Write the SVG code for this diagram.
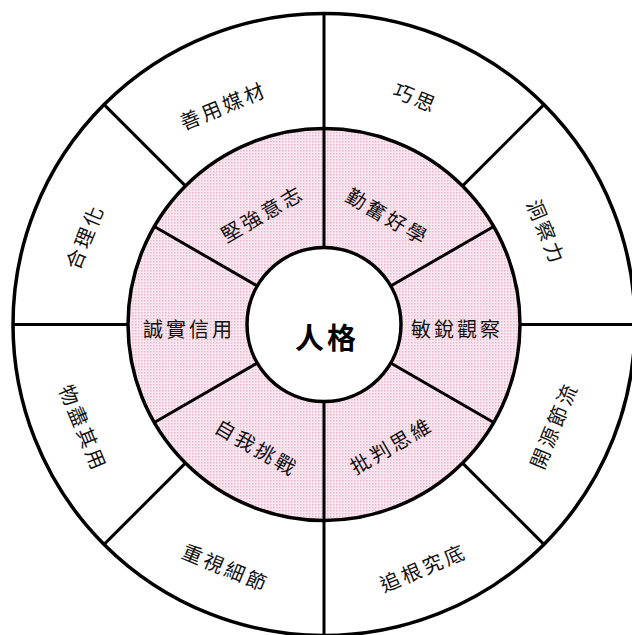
<svg xmlns="http://www.w3.org/2000/svg" width="632" height="635" viewBox="0 0 632 635">
<style>
  .ring { stroke: #000; stroke-width: 3.5; }
  .div { stroke: #000; stroke-width: 3; fill: none; }
  .lbl { font-family: "Noto Sans CJK TC", "Noto Sans CJK SC", sans-serif; font-size: 20px; letter-spacing: 3px; fill: #111; text-anchor: middle; dominant-baseline: central; }
  .core { font-family: "Noto Sans CJK TC", "Noto Sans CJK SC", sans-serif; font-size: 29px; font-weight: bold; letter-spacing: 3px; fill: #000; text-anchor: middle; dominant-baseline: central; }
</style>
<defs>
  <pattern id="dots" width="3" height="3" patternUnits="userSpaceOnUse">
    <rect width="3" height="3" fill="#fbe7f0"/>
    <rect width="1.5" height="1.5" fill="#e8b7cd"/>
  </pattern>
</defs>
<rect width="632" height="635" fill="#fff"/>
<g id="outer-ring"><circle class="ring" cx="324" cy="324.5" r="311" fill="#fff"/></g>
<g id="middle-ring"><circle class="ring" cx="324" cy="324.5" r="196" fill="url(#dots)"/></g>
<g id="connectors">
  <line class="div" x1="324" y1="13.5" x2="324" y2="247.5"/>
  <line class="div" x1="324" y1="401.5" x2="324" y2="635.5"/>
  <line class="div" x1="520" y1="324.5" x2="635" y2="324.5"/>
  <line class="div" x1="128" y1="324.5" x2="13" y2="324.5"/>
  <line class="div" x1="462.6" y1="185.9" x2="543.9" y2="104.6"/>
  <line class="div" x1="185.4" y1="185.9" x2="104.1" y2="104.6"/>
  <line class="div" x1="185.4" y1="463.1" x2="104.1" y2="544.4"/>
  <line class="div" x1="462.6" y1="463.1" x2="543.9" y2="544.4"/>
  <line class="div" x1="390.7" y1="286" x2="493.7" y2="226.5"/>
  <line class="div" x1="257.3" y1="286" x2="154.3" y2="226.5"/>
  <line class="div" x1="257.3" y1="363" x2="154.3" y2="422.5"/>
  <line class="div" x1="390.7" y1="363" x2="493.7" y2="422.5"/>
</g>
<g id="center">
  <circle class="ring" cx="324" cy="324.5" r="77" fill="#fff"/>
  <text class="core" x="327" y="336">人格</text>
</g>
<g id="n-qiaosi"><text class="lbl" transform="translate(416,97) rotate(22.5)">巧思</text></g>
<g id="n-dongchali"><text class="lbl" transform="translate(547,232) rotate(67.5)">洞察力</text></g>
<g id="n-kaiyuan"><text class="lbl" transform="translate(553,425) rotate(-67.5)">開源節流</text></g>
<g id="n-zhuigen"><text class="lbl" transform="translate(423,567) rotate(-22.5)">追根究底</text></g>
<g id="n-zhongshi"><text class="lbl" transform="translate(226,567) rotate(22.5)">重視細節</text></g>
<g id="n-wujin"><text class="lbl" transform="translate(84,428) rotate(67.5)">物盡其用</text></g>
<g id="n-heli"><text class="lbl" transform="translate(84,236) rotate(-67.5)">合理化</text></g>
<g id="n-shanyong"><text class="lbl" transform="translate(223,105) rotate(-22.5)">善用媒材</text></g>
<g id="n-qinfen"><text class="lbl" transform="translate(388,216) rotate(30)">勤奮好學</text></g>
<g id="n-minrui"><text class="lbl" transform="translate(457,328)">敏銳觀察</text></g>
<g id="n-pipan"><text class="lbl" transform="translate(391,445) rotate(-30)">批判思維</text></g>
<g id="n-ziwo"><text class="lbl" transform="translate(257,447) rotate(30)">自我挑戰</text></g>
<g id="n-chengshi"><text class="lbl" transform="translate(189,328)">誠實信用</text></g>
<g id="n-jianqiang"><text class="lbl" transform="translate(262,213) rotate(-30)">堅強意志</text></g>
</svg>
